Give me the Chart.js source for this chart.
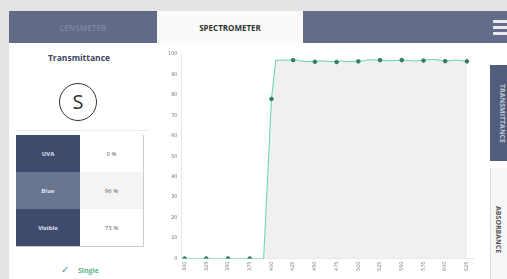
<!DOCTYPE html>
<html>
<head>
<meta charset="utf-8">
<script src="https://cdn.jsdelivr.net/npm/chart.js@4"></script>
<style>
    body { margin: 0; width: 507px; height: 279px; background: #e4e4e4; font-family: 'Open Sans', sans-serif; overflow: hidden; position: relative; }
    .tab { position: absolute; top: 11px; height: 32px; box-sizing: border-box; font-size: 8px; font-weight: bold; text-align: center; line-height: 34px; }
    .tab-left { left: 9px; width: 148px; background: #616b87; color: #7a84a0; }
    .tab-mid { left: 157px; width: 146px; background: #fafafa; color: #333; }
    .tab-right { left: 303px; width: 204px; background: #636d89; }
    .burger { position: absolute; right: 0; top: 9px; width: 14px; }
    .burger div { height: 3px; background: #e9e9ef; margin-bottom: 3px; }
    .panel { position: absolute; left: 9px; top: 43px; width: 151px; height: 236px; background: #fff; }
    .main { position: absolute; left: 160px; top: 43px; width: 347px; height: 236px; background: #fff; }
    .title { position: absolute; left: 0; width: 140px; top: 9px; text-align: center; font-size: 8.5px; font-weight: bold; color: #3c465f; }
    .circle { position: absolute; left: 50px; top: 40px; width: 36px; height: 36px; border: 1.5px solid #333; border-radius: 50%; text-align: center; line-height: 36px; font-size: 20px; color: #333; }
    .sep { position: absolute; left: 5px; width: 135px; top: 87px; height: 1px; background: #ececec; }
    table { position: absolute; left: 7px; top: 92px; width: 128px; border-collapse: collapse; font-size: 6px; border-right: 1px solid #ccc; border-bottom: 1px solid #ccc; }
    td { height: 37px; padding: 0; text-align: center; }
    td.k { width: 64px; color: #dfe3ec; font-weight: bold; }
    td.v { color: #555; }
    .r1 td.k, .r3 td.k { background: #3f4b6c; }
    .r2 td.k { background: #6a7592; }
    .r2 td.v { background: #f4f4f4; }
    .single { position: absolute; left: 52px; top: 219px; font-size: 7px; font-weight: bold; color: #5fb58c; }
    .single span { font-size: 10px; margin-right: 9px; color: #4aa57a; font-weight: normal; }
    .vtab { position: absolute; right: 0; width: 17px; writing-mode: vertical-rl; text-align: center; font-size: 7px; font-weight: bold; }
    .vt1 { top: 65px; height: 96px; background: #525d7c; color: #bfc5d6; }
    .vt2 { top: 168px; height: 111px; background: #f6f6f6; color: #555; border-left: 1px solid #ddd; line-height: 17px; padding-top: 12px; box-sizing: border-box; }
    .wrap { position: absolute; left: 0; top: 0; width: 318px; height: 236px; }
</style>
</head>
<body>
<div class="tab tab-left">LENSMETER</div>
<div class="tab tab-mid">SPECTROMETER</div>
<div class="tab tab-right"><div class="burger"><div></div><div></div><div></div></div></div>
<div class="panel">
    <div class="title">Transmittance</div>
    <div class="circle">S</div>
    <div class="sep"></div>
    <table id="tbl"></table>
    <div class="single"><span>✓</span>Single</div>
</div>
<div class="main">
    <div class="wrap"><canvas id="specChart"></canvas></div>
</div>
<div class="vtab vt1">TRANSMITTANCE</div>
<div class="vtab vt2">ABSORBANCE</div>

<script>
// === DATA ===
const wavelengths = [300, 325, 350, 375, 391, 400, 405, 412, 425, 431, 437, 450, 456, 462, 475, 481, 487, 500, 506, 512, 525, 531, 537, 550, 556, 562, 575, 581, 587, 600, 606, 612, 625];
const transmittance = [0, 0, 0, 0, 0, 78, 97, 97, 97, 96.8, 96.4, 96.2, 96.6, 96.5, 96.1, 96.6, 96.3, 96.4, 96.7, 97.2, 97, 96.8, 96.7, 97, 96.9, 96.6, 96.8, 97.2, 97.4, 96.5, 96.7, 97.1, 96.4];
const yTicks = [0, 10, 20, 30, 40, 50, 60, 70, 80, 90, 100];
const bandNames = ['UVA', 'Blue', 'Visible'];
const bandValues = ['0 %', '96 %', '73 %'];

// summary table
const tbl = document.getElementById('tbl');
bandNames.forEach(function(name, i) {
    const tr = document.createElement('tr');
    tr.className = 'r' + (i + 1);
    tr.innerHTML = '<td class="k">' + name + '</td><td class="v">' + bandValues[i] + '</td>';
    tbl.appendChild(tr);
});

// === SPECTRUM CHART ===
const ctx = document.getElementById('specChart');
new Chart(ctx, {
    type: 'line',
    data: {
        datasets: [{
            data: wavelengths.map(function(w, i) { return { x: w, y: transmittance[i] }; }),
            borderColor: '#62d6a9',
            backgroundColor: '#f0f0f0',
            fill: 'origin',
            borderWidth: 1,
            tension: 0,
            pointRadius: function(c) { return wavelengths[c.dataIndex] % 25 === 0 ? 1.8 : 0; },
            pointBackgroundColor: '#2f7d5e',
            pointBorderColor: '#2f7d5e'
        }]
    },
    options: {
        responsive: true,
        maintainAspectRatio: false,
        animation: false,
        layout: { padding: { left: 4, right: 0, top: 11, bottom: 5 } },
        plugins: { legend: { display: false }, tooltip: { enabled: false } },
        scales: {
            x: {
                type: 'linear',
                min: 296.5,
                max: 632,
                grid: { display: false, drawTicks: false },
                border: { color: '#e6e6e6' },
                ticks: {
                    stepSize: 25,
                    includeBounds: false,
                    autoSkip: false,
                    minRotation: 90,
                    maxRotation: 90,
                    padding: 3,
                    color: '#777',
                    font: { size: 5, family: 'DejaVu Sans' }
                }
            },
            y: {
                min: 0,
                max: 100,
                afterBuildTicks: function(axis) { axis.ticks = yTicks.map(function(v) { return { value: v }; }); },
                grid: { display: false, drawTicks: false },
                border: { color: '#e6e6e6' },
                ticks: {
                    padding: 4,
                    color: '#777',
                    font: { size: 5, family: 'DejaVu Sans' }
                }
            }
        }
    }
});
</script>
</body>
</html>
